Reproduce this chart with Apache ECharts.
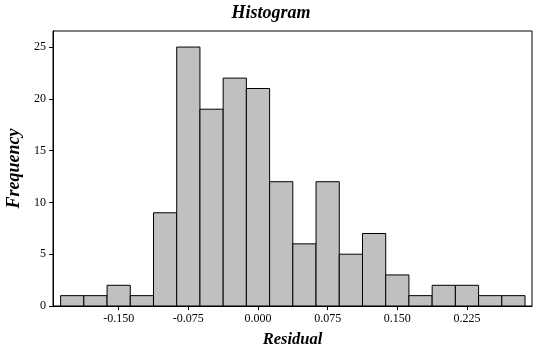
<!DOCTYPE html>
<html>
<head>
<meta charset="utf-8">
<script src="https://cdn.jsdelivr.net/npm/echarts@6/dist/echarts.min.js"></script>
<style>
html,body{margin:0;padding:0;background:#fff;}
#main{width:547px;height:351px;}
</style>
</head>
<body>
<div id="main"></div>
<script>
// bins of width 0.025, centred on these values
var binWidth = 0.025;
var binCenters = [-0.200, -0.175, -0.150, -0.125, -0.100, -0.075, -0.050, -0.025, 0.000, 0.025,
                  0.050, 0.075, 0.100, 0.125, 0.150, 0.175, 0.200, 0.225, 0.250, 0.275];
var counts = [1, 1, 2, 1, 9, 25, 19, 22, 21, 12, 6, 12, 5, 7, 3, 1, 2, 2, 1, 1];
var xTicks = [-0.150, -0.075, 0.000, 0.075, 0.150, 0.225];
var yTicks = [0, 5, 10, 15, 20, 25];

e_chart();

function e_chart(){
	var myChart = echarts.init(document.getElementById('main'));
	var serif = '"Liberation Serif", "DejaVu Serif", serif';

	var data = [];
	for (var i = 0; i < counts.length; i++) {
		data.push([binCenters[i], counts[i]]);
	}

	var option = {
		animation: false,
		title: {
			text: 'Histogram',
			left: 266,
			textAlign: 'center',
			top: -1,
			textStyle: {
				fontFamily: serif,
				fontStyle: 'italic',
				fontWeight: 'bold',
				fontSize: 18,
				color: '#000'
			}
		},
		grid: {
			left: 53,
			right: 15,
			top: 31,
			bottom: 45,
			outerBoundsMode: 'none',
			containLabel: false,
			show: true,
			borderColor: '#000',
			borderWidth: 1
		},
		xAxis: {										//X轴
			type: 'value',
			min: -0.2207,
			max: 0.295,
			name: 'Residual',
			nameLocation: 'middle',
			nameGap: 25,
			nameTextStyle: {
				fontFamily: serif,
				fontStyle: 'italic',
				fontWeight: 'bold',
				fontSize: 16.5,
				color: '#000'
			},
			axisLine: {show: true, onZero: false, lineStyle: {color: '#000', width: 1}},
			axisTick: {show: true, length: 4, customValues: xTicks, lineStyle: {color: '#000'}},
			axisLabel: {
				customValues: xTicks,
				margin: 7,
				fontFamily: serif,
				fontSize: 12,
				color: '#000',
				formatter: function(v){ return v.toFixed(3); }
			},
			splitLine: {show: false}
		},
		yAxis: {										//Y轴
			type: 'value',
			min: 0,
			max: 26.55,
			name: 'Frequency',
			nameLocation: 'middle',
			nameGap: 29,
			nameTextStyle: {
				fontFamily: serif,
				fontStyle: 'italic',
				fontWeight: 'bold',
				fontSize: 18,
				color: '#000'
			},
			axisLine: {show: true, onZero: false, lineStyle: {color: '#000', width: 1}},
			axisTick: {show: true, length: 4, customValues: yTicks, lineStyle: {color: '#000'}},
			axisLabel: {
				customValues: yTicks,
				margin: 7,
				fontFamily: serif,
				fontSize: 12,
				color: '#000'
			},
			splitLine: {show: false}
		},
		series: [{
			type: 'custom',
			data: data,
			renderItem: function(params, api){
				var c = api.value(0), n = api.value(1);
				var p0 = api.coord([c - binWidth / 2, n]);
				var p1 = api.coord([c + binWidth / 2, 0]);
				return {
					type: 'rect',
					shape: {x: p0[0], y: p0[1], width: p1[0] - p0[0], height: p1[1] - p0[1]},
					style: {fill: '#c0c0c0', stroke: '#000', lineWidth: 1}
				};
			}
		}]
	};

	myChart.setOption(option);
}
</script>
</body>
</html>
